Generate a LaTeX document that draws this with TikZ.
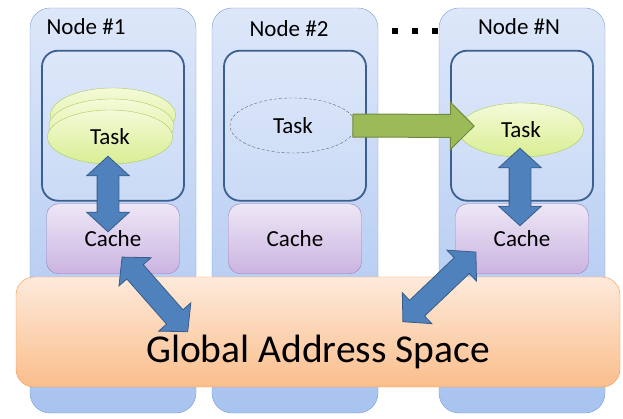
\documentclass[tikz,border=0pt]{standalone}
\usepackage{fontspec}
\setmainfont{Carlito}
\usepackage{tikz}
\usetikzlibrary{shapes,arrows.meta,positioning,calc}

\definecolor{nodetop}{HTML}{DDE7F9}
\definecolor{nodebot}{HTML}{A8C3F0}
\definecolor{nodeedge}{HTML}{7BA0D4}
\definecolor{coreedge}{HTML}{3B5F8E}
\definecolor{cachetop}{HTML}{EEE7F6}
\definecolor{cachebot}{HTML}{CBB4E1}
\definecolor{cacheedge}{HTML}{9983BF}
\definecolor{tasktop}{HTML}{F4FAD8}
\definecolor{taskbot}{HTML}{D9EE93}
\definecolor{taskedge}{HTML}{AACD5E}
\definecolor{gastop}{HTML}{FDEADB}
\definecolor{gasbot}{HTML}{FABE8C}
\definecolor{gasedge}{HTML}{F79646}
\definecolor{linkfill}{HTML}{4F81BD}
\definecolor{linkedge}{HTML}{385D8A}
\definecolor{movefill}{HTML}{9BBB59}
\definecolor{moveedge}{HTML}{71893F}

% block arrow between two points
\newcommand{\blockarrow}[3][]{%
  \path let \p1=($(#3)-(#2)$), \n1={veclen(\x1,\y1)}, \n2={atan2(\y1,\x1)} in
    node[#1, rotate=\n2, minimum height=\n1] at ($(#2)!0.5!(#3)$) {};}

\begin{document}
\begin{tikzpicture}[
    x=1pt, y=-1pt,
    node distance=2pt, % cache right under the task area
    nodebox/.style={rectangle, draw=nodeedge, rounded corners=20pt, top color=nodetop, bottom color=nodebot, minimum width=166pt, minimum height=405pt, inner sep=0pt},
    corebox/.style={rectangle, draw=coreedge, line width=1.8pt, rounded corners=16pt, top color=nodetop, bottom color=nodetop!65!nodebot, minimum width=142pt, minimum height=150pt, inner sep=0pt},
    cachebox/.style={rectangle, draw=cacheedge, rounded corners=12pt, top color=cachetop, bottom color=cachebot, minimum width=133pt, minimum height=70pt, inner sep=0pt, font=\fontsize{23}{23}\selectfont},
    task/.style={ellipse, draw=taskedge, top color=tasktop, bottom color=taskbot, minimum width=125pt, minimum height=54pt, inner sep=0pt, font=\fontsize{23}{23}\selectfont},
    ghost/.style={ellipse, draw=black!60, dash pattern=on 3pt off 2pt, minimum width=126pt, minimum height=55pt, inner sep=0pt, font=\fontsize{23}{23}\selectfont},
    title/.style={anchor=base, inner sep=0pt, font=\fontsize{23}{23}\selectfont},
    dot/.style={rectangle, fill=black, minimum size=6pt, inner sep=0pt},
    gasbox/.style={rectangle, draw=gasedge, rounded corners=18pt, top color=gastop, bottom color=gasbot, minimum width=604pt, minimum height=110pt, inner sep=0pt},
    link/.style={double arrow, draw=linkedge, fill=linkfill, line width=0.8pt, inner xsep=0pt, inner ysep=10.5pt, double arrow head extend=10.5pt, double arrow tip angle=95},
    move/.style={single arrow, draw=moveedge, fill=movefill, line width=1pt, inner xsep=0pt, inner ysep=11pt, single arrow head extend=12pt, single arrow tip angle=90}
]
    \useasboundingbox (0,0) rectangle (623,419);

    % Nodes
    \node[nodebox] (node1) at (113,210.5) {};
    \node[nodebox] (node2) at (295,210.5) {};
    \node[nodebox] (nodeN) at (522,210.5) {};

    \node[dot] (dot1) at (395,31) {};
    \node[dot] (dot2) at (415,31) {};
    \node[dot] (dot3) at (435,31) {};

    \node[title] (name1) at (86,35) {Node \#1};
    \node[title] (name2) at (289,37) {Node \#2};
    \node[title] (nameN) at (519,35) {Node \#N};

    \node[corebox, below=42pt of node1.north] (core1) {};
    \node[corebox, below=42pt of node2.north] (core2) {};
    \node[corebox, below=42pt of nodeN.north] (coreN) {};

    \node[cachebox, below=of core1] (c1) {Cache};
    \node[cachebox, below=of core2] (c2) {Cache};
    \node[cachebox, below=of coreN] (cN) {Cache};

    \node[task, below=38pt of core1.north] (t1c) {};
    \node[task, below=49pt of core1.north, xshift=-1.5pt] (t1b) {};
    \node[task, below=60pt of core1.north, xshift=-3pt] (t1) {Task};
    \node[ghost, below=48pt of core2.north, xshift=-2pt] (t2) {Task};
    \node[task, below=53pt of coreN.north, xshift=-1pt] (tN) {Task};

    % Connections
    \coordinate (v1a) at ($(t1.south)+(-2,-8)$);
    \coordinate (v1b) at ($(c1.center)+(-5,-7)$);
    \coordinate (vNa) at ($(tN.south)+(-1,-9)$);
    \coordinate (vNb) at ($(cN.center)+(-2,-13)$);
    \coordinate (g2) at ($(t2.east)+(-9,0)$);
    \coordinate (gN) at ($(tN.west)+(10,-4)$);

    \blockarrow[link]{v1a}{v1b}
    \blockarrow[link]{vNa}{vNb}
    \blockarrow[move]{g2}{gN}

    \node[gasbox] (gas) at (318,332) {};
    \node[font=\fontsize{39.5}{40}\selectfont, inner sep=0pt] (gastext) at (318,352) {Global Address Space};

    \coordinate (d1a) at ($(c1.south)+(9,-17)$);
    \coordinate (d1b) at ($(gas.north west)+(172,55)$);
    \coordinate (dNa) at ($(gas.north west)+(387,45)$);
    \coordinate (dNb) at ($(cN.south)+(-46,-22)$);

    \blockarrow[link]{d1a}{d1b}
    \blockarrow[link]{dNa}{dNb}
\end{tikzpicture}
\end{document}
